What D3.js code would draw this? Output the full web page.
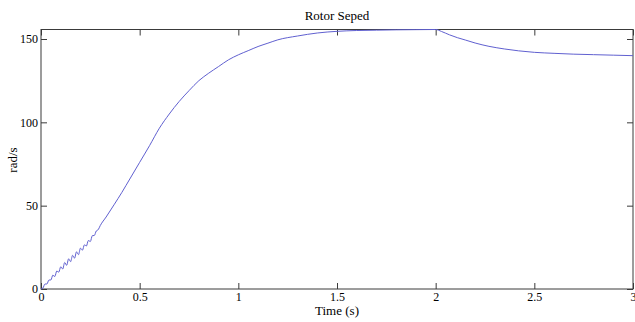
<!DOCTYPE html>
<html>
<head>
<meta charset="utf-8">
<script src="https://cdn.jsdelivr.net/npm/d3@7"></script>
<style>
  body { margin: 0; background: #fff; }
  svg text { font-family: "Liberation Serif", "Times New Roman", serif; fill: #000; }
</style>
</head>
<body>
<svg id="chart" width="635" height="322"></svg>
<script>
// time (s)
let timeVals = [
  0, 0.01, 0.02, 0.03, 0.04, 0.05, 0.06, 0.07, 0.08, 0.09, 0.10,
  0.11, 0.12, 0.13, 0.14, 0.15, 0.16, 0.17, 0.18, 0.19, 0.20,
  0.21, 0.22, 0.23, 0.24, 0.25, 0.26, 0.27, 0.28, 0.29, 0.30,
  0.33, 0.37, 0.41, 0.45, 0.5, 0.55, 0.6, 0.65, 0.7, 0.75, 0.8, 0.85, 0.9, 0.95,
  1.0, 1.05, 1.1, 1.15, 1.2, 1.3, 1.4, 1.5, 1.6, 1.7, 1.8, 1.9, 2.0,
  2.03, 2.07, 2.11, 2.15, 2.2, 2.27, 2.35, 2.42, 2.5, 2.6, 2.7, 2.8, 2.9, 3.0
];
// rotor speed (rad/s)
let speedVals = [
  0, 0.6, 3.0, 3.0, 5.4, 5.4, 8.3, 7.5, 10.8, 10.1, 13.3,
  12.0, 15.9, 14.2, 18.1, 16.4, 20.2, 18.5, 22.3, 20.6, 24.5,
  23.3, 26.5, 25.8, 29.1, 28.5, 32.0, 32.1, 34.8, 35.6, 38.0,
  43.2, 50.5, 58, 66, 76, 86, 96.5, 105, 112.5, 119, 125, 129.5, 133.5, 137.5,
  140.5, 143, 145.5, 147.5, 149.5, 151.8, 153.6, 154.6, 155.1, 155.3, 155.5, 155.6, 155.7,
  154.5, 152.5, 150.8, 149.4, 147.6, 145.6, 144, 142.9, 142, 141.4, 140.9, 140.6, 140.3, 140.0
];
let xTicks = [0, 0.5, 1, 1.5, 2, 2.5, 3];
let yTicks = [0, 50, 100, 150];

let data = timeVals.map((t, i) => ({t: t, v: speedVals[i]}));

let m = {t: 29.5, r: 2, b: 33, l: 41};
let w = 635, h = 322;
let serif = '"Liberation Serif", "Times New Roman", serif';

let svg = d3.select('#chart');

let x = d3.scaleLinear()
  .domain([0, 3])
  .range([m.l, w - m.r]);

let y = d3.scaleLinear()
  .domain([0, d3.max(speedVals)])
  .range([h - m.b, m.t]);

let axisColor = '#3a3a3a';

// frame
svg.append('rect')
  .attr('x', m.l)
  .attr('y', m.t)
  .attr('width', w - m.r - m.l)
  .attr('height', h - m.b - m.t)
  .attr('fill', 'none')
  .attr('stroke', axisColor)
  .attr('stroke-width', 1);

// inward ticks on all sides
function styleAxis(g) {
  g.attr('font-family', serif);
  g.select('.domain').remove();
  g.selectAll('line').attr('stroke', axisColor);
  g.selectAll('text')
    .style('font-family', serif)
    .style('font-size', '12px')
    .attr('fill', '#000');
}

svg.append('g')
  .attr('transform', `translate(0,${h - m.b})`)
  .call(d3.axisBottom(x).tickValues(xTicks).tickSizeInner(-6).tickSizeOuter(0).tickPadding(3).tickFormat(d3.format('')))
  .call(styleAxis);

svg.append('g')
  .attr('transform', `translate(0,${m.t})`)
  .call(d3.axisTop(x).tickValues(xTicks).tickSizeInner(-6).tickSizeOuter(0).tickFormat(''))
  .call(styleAxis);

svg.append('g')
  .attr('transform', `translate(${m.l},0)`)
  .call(d3.axisLeft(y).tickValues(yTicks).tickSizeInner(-6).tickSizeOuter(0).tickPadding(3))
  .call(styleAxis);

svg.append('g')
  .attr('transform', `translate(${w - m.r},0)`)
  .call(d3.axisRight(y).tickValues(yTicks).tickSizeInner(-6).tickSizeOuter(0).tickFormat(''))
  .call(styleAxis);

// the curve
let line = d3.line()
  .curve(d3.curveMonotoneX)
  .x(d => x(d.t))
  .y(d => y(d.v));

svg.append('path')
  .datum(data)
  .attr('d', line)
  .attr('fill', 'none')
  .attr('stroke', '#6060d0')
  .attr('stroke-width', 1);

// labels
svg.append('text')
  .attr('x', 337)
  .attr('y', 20)
  .attr('text-anchor', 'middle')
  .style('font-family', serif)
  .style('font-size', '13px')
  .text('Rotor Seped');

svg.append('text')
  .attr('x', 337)
  .attr('y', 315)
  .attr('text-anchor', 'middle')
  .style('font-family', serif)
  .style('font-size', '13px')
  .text('Time (s)');

svg.append('text')
  .attr('transform', 'translate(16.5,160) rotate(-90)')
  .attr('text-anchor', 'middle')
  .style('font-family', serif)
  .style('font-size', '13px')
  .text('rad/s');
</script>
</body>
</html>
